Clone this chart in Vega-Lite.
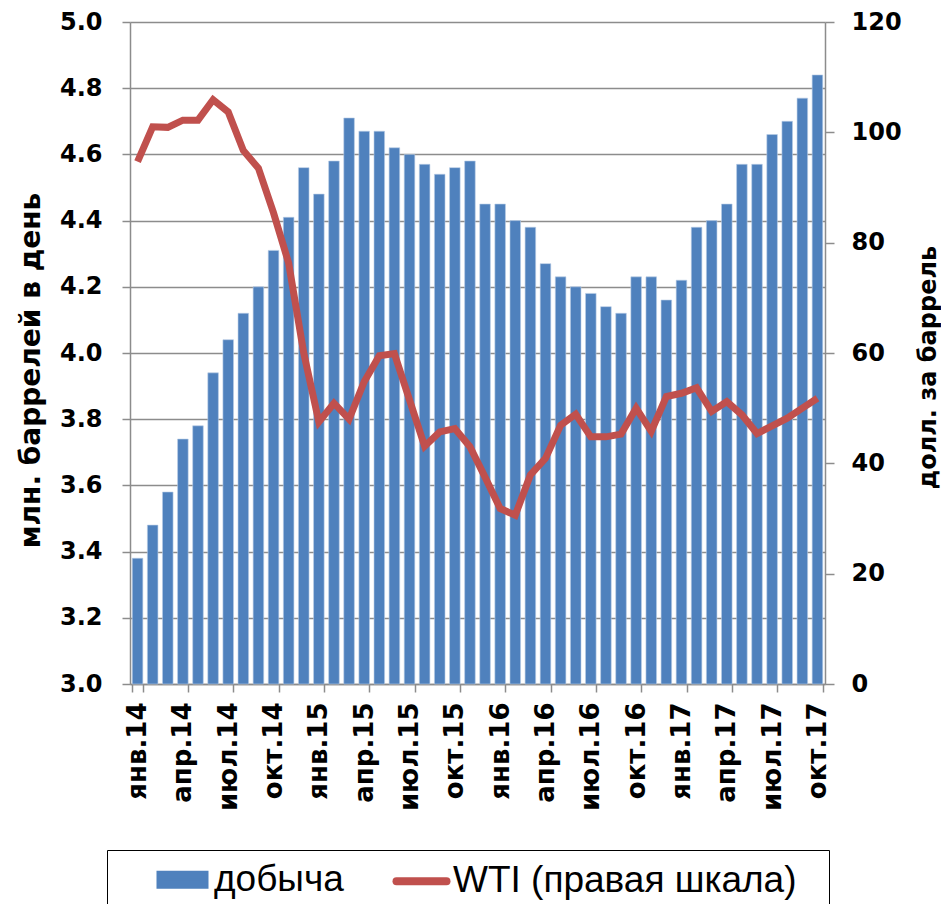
{
  "$schema": "https://vega.github.io/schema/vega-lite/v6.json",
  "width": 695,
  "height": 662,
  "autosize": {"type": "none"},
  "padding": {"left": 130, "top": 22, "right": 116, "bottom": 220},
  "background": "white",
  "config": {"view": {"stroke": null}, "font": "Liberation Sans"},
  "data": {"values": [
    {"m": "янв.14", "prod": 3.38, "wti": 94.7},
    {"m": "фев.14", "prod": 3.48, "wti": 101.0},
    {"m": "мар.14", "prod": 3.58, "wti": 100.9},
    {"m": "апр.14", "prod": 3.74, "wti": 102.2},
    {"m": "май.14", "prod": 3.78, "wti": 102.2},
    {"m": "июн.14", "prod": 3.94, "wti": 105.9},
    {"m": "июл.14", "prod": 4.04, "wti": 103.7},
    {"m": "авг.14", "prod": 4.12, "wti": 96.7},
    {"m": "сен.14", "prod": 4.20, "wti": 93.5},
    {"m": "окт.14", "prod": 4.31, "wti": 85.4},
    {"m": "ноя.14", "prod": 4.41, "wti": 76.3},
    {"m": "дек.14", "prod": 4.56, "wti": 60.0},
    {"m": "янв.15", "prod": 4.48, "wti": 47.5},
    {"m": "фев.15", "prod": 4.58, "wti": 50.9},
    {"m": "мар.15", "prod": 4.71, "wti": 48.0},
    {"m": "апр.15", "prod": 4.67, "wti": 54.8},
    {"m": "май.15", "prod": 4.67, "wti": 59.5},
    {"m": "июн.15", "prod": 4.62, "wti": 59.9},
    {"m": "июл.15", "prod": 4.60, "wti": 51.5},
    {"m": "авг.15", "prod": 4.57, "wti": 43.1},
    {"m": "сен.15", "prod": 4.54, "wti": 45.7},
    {"m": "окт.15", "prod": 4.56, "wti": 46.3},
    {"m": "ноя.15", "prod": 4.58, "wti": 43.0},
    {"m": "дек.15", "prod": 4.45, "wti": 37.5},
    {"m": "янв.16", "prod": 4.45, "wti": 31.8},
    {"m": "фев.16", "prod": 4.40, "wti": 30.6},
    {"m": "мар.16", "prod": 4.38, "wti": 37.9},
    {"m": "апр.16", "prod": 4.27, "wti": 40.9},
    {"m": "май.16", "prod": 4.23, "wti": 46.9},
    {"m": "июн.16", "prod": 4.20, "wti": 48.9},
    {"m": "июл.16", "prod": 4.18, "wti": 44.8},
    {"m": "авг.16", "prod": 4.14, "wti": 44.8},
    {"m": "сен.16", "prod": 4.12, "wti": 45.3},
    {"m": "окт.16", "prod": 4.23, "wti": 50.0},
    {"m": "ноя.16", "prod": 4.23, "wti": 45.8},
    {"m": "дек.16", "prod": 4.16, "wti": 52.1},
    {"m": "янв.17", "prod": 4.22, "wti": 52.7},
    {"m": "фев.17", "prod": 4.38, "wti": 53.7},
    {"m": "мар.17", "prod": 4.40, "wti": 49.4},
    {"m": "апр.17", "prod": 4.45, "wti": 51.2},
    {"m": "май.17", "prod": 4.57, "wti": 48.8},
    {"m": "июн.17", "prod": 4.57, "wti": 45.4},
    {"m": "июл.17", "prod": 4.66, "wti": 46.8},
    {"m": "авг.17", "prod": 4.70, "wti": 48.2},
    {"m": "сен.17", "prod": 4.77, "wti": 50.0},
    {"m": "окт.17", "prod": 4.84, "wti": 51.8}
  ]},
  "encoding": {
    "x": {
      "field": "m", "type": "ordinal", "sort": null,
      "scale": {"paddingInner": 0.3, "paddingOuter": 0.15},
      "axis": {
        "values": ["янв.14","апр.14","июл.14","окт.14","янв.15","апр.15","июл.15","окт.15","янв.16","апр.16","июл.16","окт.16","янв.17","апр.17","июл.17","окт.17"],
        "tickBand": "extent",
        "title": null,
        "labelAngle": 270,
        "labelFont": "DejaVu Sans",
        "labelFontSize": 26,
        "labelFontWeight": "bold",
        "labelColor": "black",
        "labelPadding": 10,
        "tickSize": 8,
        "tickWidth": 1.5,
        "tickColor": "#8c8c8c",
        "domainColor": "#8c8c8c",
        "domainWidth": 1.5,
        "grid": false
      }
    }
  },
  "layer": [
    {
      "mark": {"type": "bar", "color": "#4F81BD", "stroke": "#b9cde5", "strokeWidth": 0.6},
      "encoding": {
        "y": {
          "field": "prod", "type": "quantitative",
          "scale": {"domain": [3, 5], "zero": false, "nice": false},
          "axis": {
            "orient": "left",
            "values": [3, 3.2, 3.4, 3.6, 3.8, 4, 4.2, 4.4, 4.6, 4.8, 5],
            "format": ".1f",
            "title": "млн. баррелей в день",
            "titleFont": "DejaVu Sans",
            "titleFontSize": 28,
            "titleFontWeight": "bold",
            "titleColor": "black",
            "titlePadding": 14,
            "titleY": 348,
            "labelFont": "DejaVu Sans",
            "labelFontSize": 24,
            "labelFontWeight": "bold",
            "labelColor": "black",
            "labelPadding": 20,
            "tickSize": 8,
            "tickWidth": 1.5,
            "tickColor": "#8c8c8c",
            "domainColor": "#8c8c8c",
            "domainWidth": 1.5,
            "grid": true,
            "gridColor": "#8c8c8c",
            "gridWidth": 1.5
          }
        },
        "y2": {"datum": 3},
        "color": {
          "datum": "добыча",
          "scale": {"domain": ["добыча", "WTI (правая шкала)"], "range": ["#4F81BD", "#C0504D"]},
          "legend": {
            "orient": "none",
            "legendX": -23,
            "legendY": 828,
            "direction": "horizontal",
            "title": "\u00a0",
            "titleOrient": "right",
            "titlePadding": 22,
            "titleFontSize": 8,
            "strokeColor": "black",
            "padding": 11,
            "symbolType": "M-4.4,-1H4.4V1H-4.4Z",
            "symbolSize": 100,
            "symbolOffset": 46,
            "symbolStrokeWidth": 8,
            "labelOffset": 13,
            "columnPadding": 13,
            "labelFont": "Liberation Sans",
            "labelFontSize": 37,
            "labelColor": "black",
            "labelLimit": 600,
            "encode": {
              "symbols": {
                "update": {
                  "shape": {"signal": "datum.value == 'добыча' ? 'M-4.4,-1H4.4V1H-4.4Z' : 'M-5,0H5'"},
                  "fill": {"signal": "datum.value == 'добыча' ? '#4F81BD' : '#C0504D'"},
                  "stroke": {"signal": "datum.value == 'добыча' ? '#4F81BD' : '#C0504D'"},
                  "strokeWidth": {"value": 8},
                  "strokeCap": {"value": "round"},
                  "opacity": {"value": 1}
                }
              }
            }
          }
        }
      }
    },
    {
      "mark": {"type": "line", "color": "#C0504D", "strokeWidth": 7, "strokeJoin": "miter"},
      "encoding": {
        "y": {
          "field": "wti", "type": "quantitative",
          "scale": {"domain": [0, 120], "nice": false},
          "axis": {
            "orient": "right",
            "values": [0, 20, 40, 60, 80, 100, 120],
            "title": "долл. за баррель",
            "titleAngle": 270,
            "titleFont": "DejaVu Sans",
            "titleFontSize": 24,
            "titleFontWeight": "bold",
            "titleColor": "black",
            "titlePadding": 39,
            "titleY": 345,
            "labelFont": "DejaVu Sans",
            "labelFontSize": 24,
            "labelFontWeight": "bold",
            "labelColor": "black",
            "labelPadding": 17,
            "tickSize": 9,
            "tickWidth": 1.5,
            "tickColor": "#8c8c8c",
            "domainColor": "#8c8c8c",
            "domainWidth": 1.5,
            "grid": false
          }
        },
        "color": {
          "datum": "WTI (правая шкала)",
          "legend": {
            "orient": "none",
            "legendX": -23,
            "legendY": 828,
            "direction": "horizontal",
            "title": "\u00a0",
            "titleOrient": "right",
            "titlePadding": 22,
            "titleFontSize": 8,
            "strokeColor": "black",
            "padding": 11,
            "symbolType": "M-4.4,-1H4.4V1H-4.4Z",
            "symbolSize": 100,
            "symbolOffset": 46,
            "symbolStrokeWidth": 8,
            "labelOffset": 13,
            "columnPadding": 13,
            "labelFont": "Liberation Sans",
            "labelFontSize": 37,
            "labelColor": "black",
            "labelLimit": 600,
            "encode": {
              "symbols": {
                "update": {
                  "shape": {"signal": "datum.value == 'добыча' ? 'M-4.4,-1H4.4V1H-4.4Z' : 'M-5,0H5'"},
                  "fill": {"signal": "datum.value == 'добыча' ? '#4F81BD' : '#C0504D'"},
                  "stroke": {"signal": "datum.value == 'добыча' ? '#4F81BD' : '#C0504D'"},
                  "strokeWidth": {"value": 8},
                  "strokeCap": {"value": "round"},
                  "opacity": {"value": 1}
                }
              }
            }
          }
        }
      }
    }
  ],
  "resolve": {"scale": {"y": "independent"}, "axis": {"y": "independent"}}
}
